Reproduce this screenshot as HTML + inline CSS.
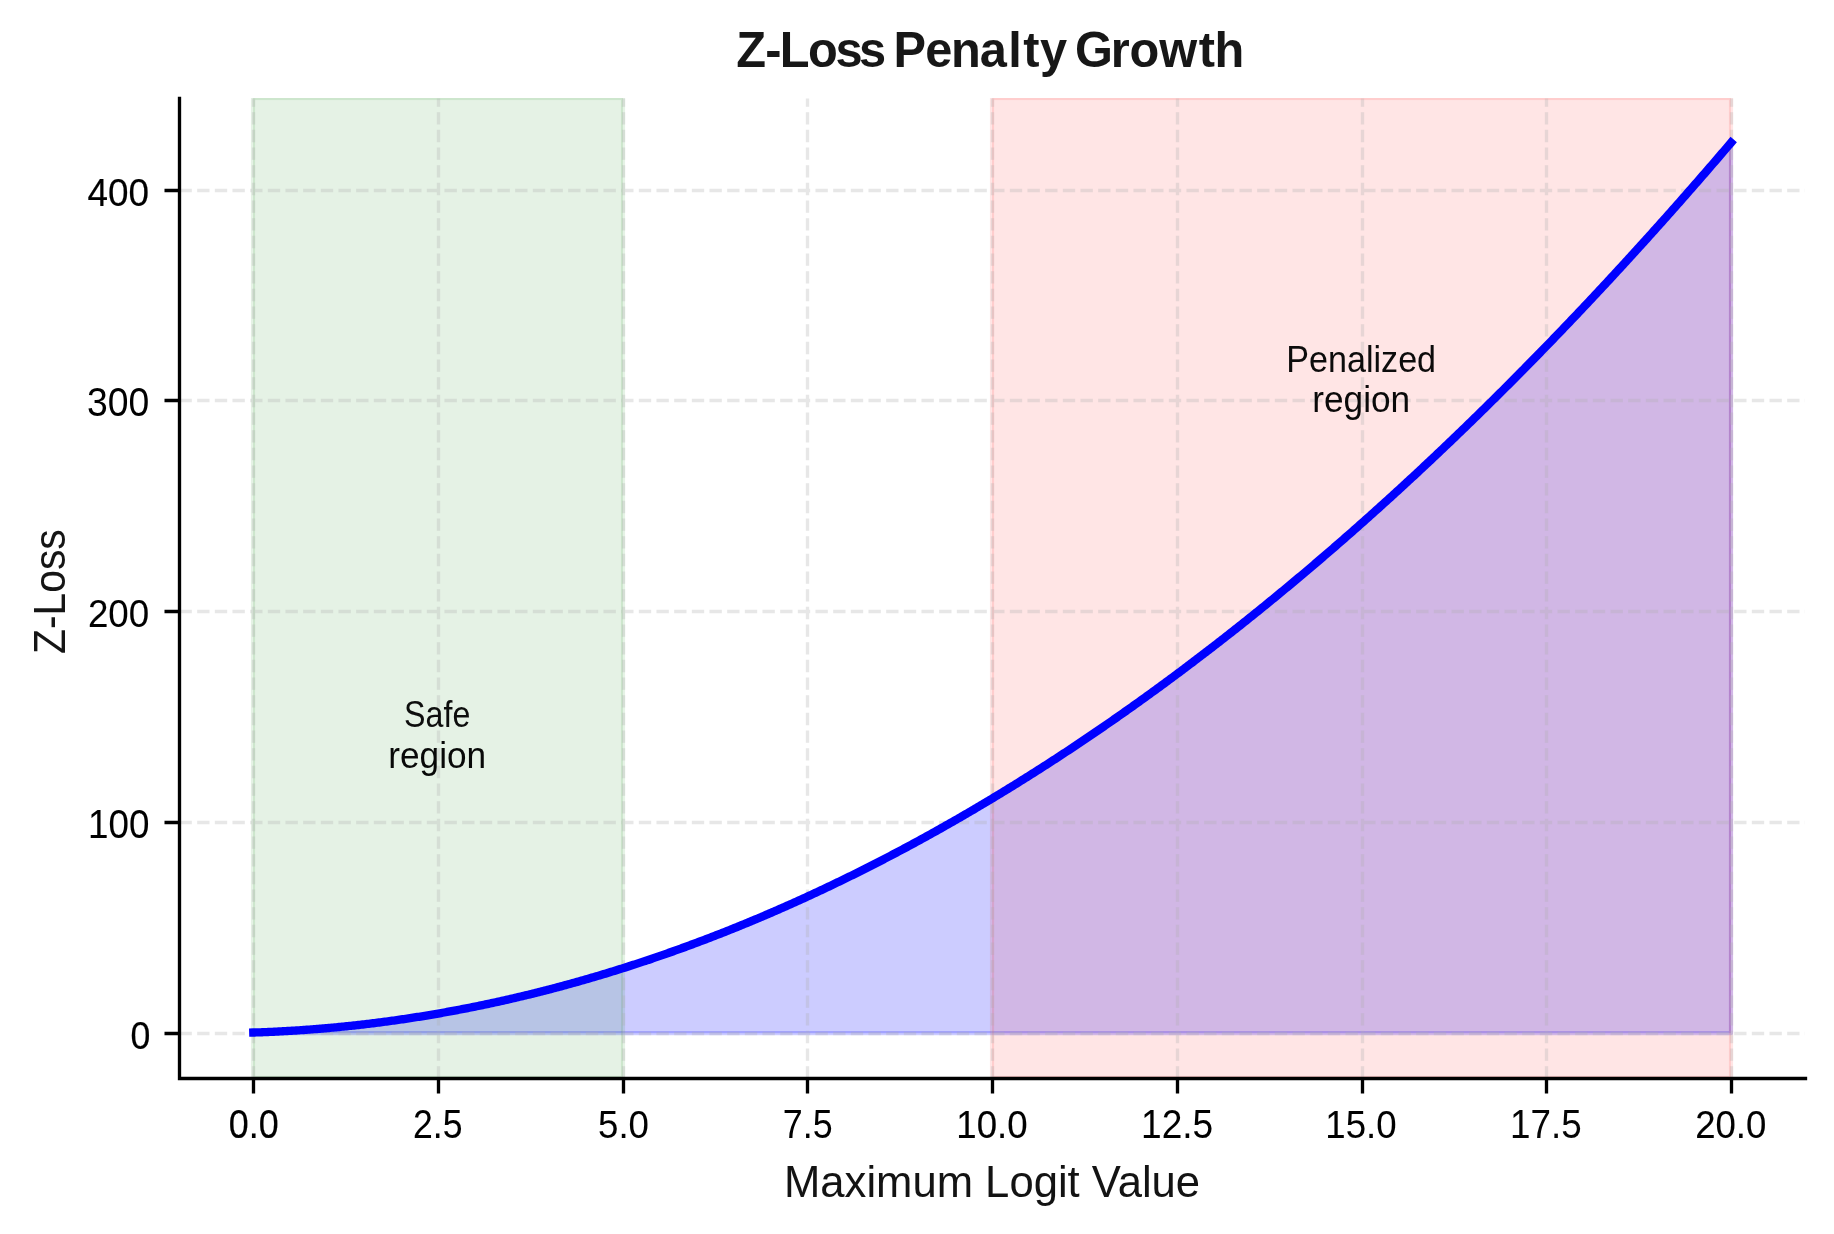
<!DOCTYPE html>
<html><head><meta charset="utf-8"><title>Z-Loss Penalty Growth</title>
<style>html,body{margin:0;padding:0;background:#fff;overflow:hidden}svg{display:block}text{font-family:"Liberation Sans",sans-serif}</style></head>
<body><svg width="1834" height="1234" viewBox="0 0 1834 1234">
<rect x="0" y="0" width="1834" height="1234" fill="#fff"/>
<defs><clipPath id="ax"><rect x="179" y="98" width="1626" height="980"/></clipPath></defs>
<g clip-path="url(#ax)">
<path d="M253.29 1033.18 L253.29 1032.54 L254.77 1032.5 L256.24 1032.45 L257.72 1032.4 L259.2 1032.34 L260.68 1032.29 L262.16 1032.23 L263.64 1032.18 L265.12 1032.12 L266.6 1032.06 L268.08 1032 L269.56 1031.93 L271.04 1031.87 L272.52 1031.8 L274 1031.73 L275.47 1031.66 L276.95 1031.59 L278.43 1031.51 L279.91 1031.44 L281.39 1031.36 L282.87 1031.28 L284.35 1031.2 L285.83 1031.12 L287.31 1031.03 L288.79 1030.95 L290.27 1030.86 L291.75 1030.77 L293.22 1030.68 L294.7 1030.58 L296.18 1030.49 L297.66 1030.39 L299.14 1030.3 L300.62 1030.2 L302.1 1030.09 L303.58 1029.99 L305.06 1029.89 L306.54 1029.78 L308.02 1029.67 L309.5 1029.56 L310.98 1029.45 L312.45 1029.34 L313.93 1029.22 L315.41 1029.11 L316.89 1028.99 L318.37 1028.87 L319.85 1028.75 L321.33 1028.63 L322.81 1028.5 L324.29 1028.37 L325.77 1028.25 L327.25 1028.12 L328.73 1027.98 L330.21 1027.85 L331.68 1027.72 L333.16 1027.58 L334.64 1027.44 L336.12 1027.3 L337.6 1027.16 L339.08 1027.01 L340.56 1026.87 L342.04 1026.72 L343.52 1026.57 L345 1026.42 L346.48 1026.27 L347.96 1026.12 L349.43 1025.96 L350.91 1025.81 L352.39 1025.65 L353.87 1025.49 L355.35 1025.32 L356.83 1025.16 L358.31 1025 L359.79 1024.83 L361.27 1024.66 L362.75 1024.49 L364.23 1024.32 L365.71 1024.14 L367.19 1023.97 L368.66 1023.79 L370.14 1023.61 L371.62 1023.43 L373.1 1023.25 L374.58 1023.06 L376.06 1022.88 L377.54 1022.69 L379.02 1022.5 L380.5 1022.31 L381.98 1022.12 L383.46 1021.92 L384.94 1021.73 L386.41 1021.53 L387.89 1021.33 L389.37 1021.13 L390.85 1020.93 L392.33 1020.72 L393.81 1020.52 L395.29 1020.31 L396.77 1020.1 L398.25 1019.89 L399.73 1019.68 L401.21 1019.46 L402.69 1019.25 L404.17 1019.03 L405.64 1018.81 L407.12 1018.59 L408.6 1018.36 L410.08 1018.14 L411.56 1017.91 L413.04 1017.69 L414.52 1017.46 L416 1017.22 L417.48 1016.99 L418.96 1016.76 L420.44 1016.52 L421.92 1016.28 L423.4 1016.04 L424.87 1015.8 L426.35 1015.56 L427.83 1015.31 L429.31 1015.07 L430.79 1014.82 L432.27 1014.57 L433.75 1014.32 L435.23 1014.06 L436.71 1013.81 L438.19 1013.55 L439.67 1013.29 L441.15 1013.03 L442.62 1012.77 L444.1 1012.51 L445.58 1012.24 L447.06 1011.97 L448.54 1011.71 L450.02 1011.44 L451.5 1011.16 L452.98 1010.89 L454.46 1010.61 L455.94 1010.34 L457.42 1010.06 L458.9 1009.78 L460.38 1009.5 L461.85 1009.21 L463.33 1008.93 L464.81 1008.64 L466.29 1008.35 L467.77 1008.06 L469.25 1007.77 L470.73 1007.47 L472.21 1007.18 L473.69 1006.88 L475.17 1006.58 L476.65 1006.28 L478.13 1005.98 L479.6 1005.67 L481.08 1005.37 L482.56 1005.06 L484.04 1004.75 L485.52 1004.44 L487 1004.13 L488.48 1003.81 L489.96 1003.5 L491.44 1003.18 L492.92 1002.86 L494.4 1002.54 L495.88 1002.22 L497.36 1001.89 L498.83 1001.57 L500.31 1001.24 L501.79 1000.91 L503.27 1000.58 L504.75 1000.25 L506.23 999.91 L507.71 999.58 L509.19 999.24 L510.67 998.9 L512.15 998.56 L513.63 998.21 L515.11 997.87 L516.59 997.52 L518.06 997.17 L519.54 996.82 L521.02 996.47 L522.5 996.12 L523.98 995.77 L525.46 995.41 L526.94 995.05 L528.42 994.69 L529.9 994.33 L531.38 993.97 L532.86 993.6 L534.34 993.23 L535.81 992.87 L537.29 992.5 L538.77 992.12 L540.25 991.75 L541.73 991.38 L543.21 991 L544.69 990.62 L546.17 990.24 L547.65 989.86 L549.13 989.47 L550.61 989.09 L552.09 988.7 L553.57 988.31 L555.04 987.92 L556.52 987.53 L558 987.14 L559.48 986.74 L560.96 986.35 L562.44 985.95 L563.92 985.55 L565.4 985.14 L566.88 984.74 L568.36 984.33 L569.84 983.93 L571.32 983.52 L572.79 983.11 L574.27 982.7 L575.75 982.28 L577.23 981.87 L578.71 981.45 L580.19 981.03 L581.67 980.61 L583.15 980.19 L584.63 979.76 L586.11 979.34 L587.59 978.91 L589.07 978.48 L590.55 978.05 L592.02 977.62 L593.5 977.18 L594.98 976.75 L596.46 976.31 L597.94 975.87 L599.42 975.43 L600.9 974.99 L602.38 974.54 L603.86 974.09 L605.34 973.65 L606.82 973.2 L608.3 972.75 L609.78 972.29 L611.25 971.84 L612.73 971.38 L614.21 970.92 L615.69 970.47 L617.17 970 L618.65 969.54 L620.13 969.08 L621.61 968.61 L623.09 968.14 L624.57 967.67 L626.05 967.2 L627.53 966.73 L629 966.25 L630.48 965.78 L631.96 965.3 L633.44 964.82 L634.92 964.34 L636.4 963.85 L637.88 963.37 L639.36 962.88 L640.84 962.39 L642.32 961.9 L643.8 961.41 L645.28 960.92 L646.76 960.42 L648.23 959.93 L649.71 959.43 L651.19 958.93 L652.67 958.42 L654.15 957.92 L655.63 957.42 L657.11 956.91 L658.59 956.4 L660.07 955.89 L661.55 955.38 L663.03 954.86 L664.51 954.35 L665.98 953.83 L667.46 953.31 L668.94 952.79 L670.42 952.27 L671.9 951.75 L673.38 951.22 L674.86 950.69 L676.34 950.16 L677.82 949.63 L679.3 949.1 L680.78 948.57 L682.26 948.03 L683.74 947.49 L685.21 946.96 L686.69 946.41 L688.17 945.87 L689.65 945.33 L691.13 944.78 L692.61 944.23 L694.09 943.69 L695.57 943.13 L697.05 942.58 L698.53 942.03 L700.01 941.47 L701.49 940.91 L702.97 940.35 L704.44 939.79 L705.92 939.23 L707.4 938.67 L708.88 938.1 L710.36 937.53 L711.84 936.96 L713.32 936.39 L714.8 935.82 L716.28 935.24 L717.76 934.67 L719.24 934.09 L720.72 933.51 L722.19 932.93 L723.67 932.35 L725.15 931.76 L726.63 931.17 L728.11 930.59 L729.59 930 L731.07 929.41 L732.55 928.81 L734.03 928.22 L735.51 927.62 L736.99 927.02 L738.47 926.42 L739.95 925.82 L741.42 925.22 L742.9 924.61 L744.38 924.01 L745.86 923.4 L747.34 922.79 L748.82 922.18 L750.3 921.56 L751.78 920.95 L753.26 920.33 L754.74 919.71 L756.22 919.09 L757.7 918.47 L759.17 917.85 L760.65 917.22 L762.13 916.59 L763.61 915.96 L765.09 915.33 L766.57 914.7 L768.05 914.07 L769.53 913.43 L771.01 912.8 L772.49 912.16 L773.97 911.52 L775.45 910.87 L776.93 910.23 L778.4 909.58 L779.88 908.94 L781.36 908.29 L782.84 907.64 L784.32 906.99 L785.8 906.33 L787.28 905.68 L788.76 905.02 L790.24 904.36 L791.72 903.7 L793.2 903.04 L794.68 902.37 L796.16 901.71 L797.63 901.04 L799.11 900.37 L800.59 899.7 L802.07 899.02 L803.55 898.35 L805.03 897.67 L806.51 897 L807.99 896.32 L809.47 895.64 L810.95 894.95 L812.43 894.27 L813.91 893.58 L815.38 892.89 L816.86 892.21 L818.34 891.51 L819.82 890.82 L821.3 890.13 L822.78 889.43 L824.26 888.73 L825.74 888.03 L827.22 887.33 L828.7 886.63 L830.18 885.92 L831.66 885.22 L833.14 884.51 L834.61 883.8 L836.09 883.09 L837.57 882.37 L839.05 881.66 L840.53 880.94 L842.01 880.22 L843.49 879.5 L844.97 878.78 L846.45 878.06 L847.93 877.33 L849.41 876.61 L850.89 875.88 L852.36 875.15 L853.84 874.42 L855.32 873.68 L856.8 872.95 L858.28 872.21 L859.76 871.47 L861.24 870.73 L862.72 869.99 L864.2 869.25 L865.68 868.5 L867.16 867.75 L868.64 867.01 L870.12 866.26 L871.59 865.5 L873.07 864.75 L874.55 863.99 L876.03 863.24 L877.51 862.48 L878.99 861.72 L880.47 860.96 L881.95 860.19 L883.43 859.43 L884.91 858.66 L886.39 857.89 L887.87 857.12 L889.35 856.35 L890.82 855.57 L892.3 854.8 L893.78 854.02 L895.26 853.24 L896.74 852.46 L898.22 851.68 L899.7 850.89 L901.18 850.11 L902.66 849.32 L904.14 848.53 L905.62 847.74 L907.1 846.95 L908.57 846.15 L910.05 845.36 L911.53 844.56 L913.01 843.76 L914.49 842.96 L915.97 842.15 L917.45 841.35 L918.93 840.54 L920.41 839.74 L921.89 838.93 L923.37 838.11 L924.85 837.3 L926.33 836.49 L927.8 835.67 L929.28 834.85 L930.76 834.03 L932.24 833.21 L933.72 832.39 L935.2 831.56 L936.68 830.74 L938.16 829.91 L939.64 829.08 L941.12 828.25 L942.6 827.41 L944.08 826.58 L945.55 825.74 L947.03 824.9 L948.51 824.06 L949.99 823.22 L951.47 822.38 L952.95 821.53 L954.43 820.69 L955.91 819.84 L957.39 818.99 L958.87 818.14 L960.35 817.28 L961.83 816.43 L963.31 815.57 L964.78 814.71 L966.26 813.85 L967.74 812.99 L969.22 812.13 L970.7 811.26 L972.18 810.39 L973.66 809.53 L975.14 808.65 L976.62 807.78 L978.1 806.91 L979.58 806.03 L981.06 805.16 L982.54 804.28 L984.01 803.4 L985.49 802.51 L986.97 801.63 L988.45 800.74 L989.93 799.86 L991.41 798.97 L992.89 798.08 L994.37 797.18 L995.85 796.29 L997.33 795.39 L998.81 794.5 L1000.29 793.6 L1001.76 792.7 L1003.24 791.79 L1004.72 790.89 L1006.2 789.98 L1007.68 789.08 L1009.16 788.17 L1010.64 787.26 L1012.12 786.34 L1013.6 785.43 L1015.08 784.51 L1016.56 783.6 L1018.04 782.68 L1019.52 781.75 L1020.99 780.83 L1022.47 779.91 L1023.95 778.98 L1025.43 778.05 L1026.91 777.12 L1028.39 776.19 L1029.87 775.26 L1031.35 774.32 L1032.83 773.39 L1034.31 772.45 L1035.79 771.51 L1037.27 770.57 L1038.75 769.63 L1040.22 768.68 L1041.7 767.73 L1043.18 766.79 L1044.66 765.84 L1046.14 764.88 L1047.62 763.93 L1049.1 762.98 L1050.58 762.02 L1052.06 761.06 L1053.54 760.1 L1055.02 759.14 L1056.5 758.18 L1057.97 757.21 L1059.45 756.24 L1060.93 755.28 L1062.41 754.31 L1063.89 753.33 L1065.37 752.36 L1066.85 751.38 L1068.33 750.41 L1069.81 749.43 L1071.29 748.45 L1072.77 747.47 L1074.25 746.48 L1075.73 745.5 L1077.2 744.51 L1078.68 743.52 L1080.16 742.53 L1081.64 741.54 L1083.12 740.55 L1084.6 739.55 L1086.08 738.55 L1087.56 737.55 L1089.04 736.55 L1090.52 735.55 L1092 734.55 L1093.48 733.54 L1094.95 732.53 L1096.43 731.52 L1097.91 730.51 L1099.39 729.5 L1100.87 728.49 L1102.35 727.47 L1103.83 726.45 L1105.31 725.43 L1106.79 724.41 L1108.27 723.39 L1109.75 722.37 L1111.23 721.34 L1112.71 720.31 L1114.18 719.28 L1115.66 718.25 L1117.14 717.22 L1118.62 716.19 L1120.1 715.15 L1121.58 714.11 L1123.06 713.07 L1124.54 712.03 L1126.02 710.99 L1127.5 709.94 L1128.98 708.9 L1130.46 707.85 L1131.94 706.8 L1133.41 705.75 L1134.89 704.69 L1136.37 703.64 L1137.85 702.58 L1139.33 701.53 L1140.81 700.47 L1142.29 699.4 L1143.77 698.34 L1145.25 697.28 L1146.73 696.21 L1148.21 695.14 L1149.69 694.07 L1151.16 693 L1152.64 691.93 L1154.12 690.85 L1155.6 689.77 L1157.08 688.7 L1158.56 687.62 L1160.04 686.53 L1161.52 685.45 L1163 684.37 L1164.48 683.28 L1165.96 682.19 L1167.44 681.1 L1168.92 680.01 L1170.39 678.91 L1171.87 677.82 L1173.35 676.72 L1174.83 675.62 L1176.31 674.52 L1177.79 673.42 L1179.27 672.32 L1180.75 671.21 L1182.23 670.1 L1183.71 669 L1185.19 667.89 L1186.67 666.77 L1188.14 665.66 L1189.62 664.54 L1191.1 663.43 L1192.58 662.31 L1194.06 661.19 L1195.54 660.06 L1197.02 658.94 L1198.5 657.81 L1199.98 656.69 L1201.46 655.56 L1202.94 654.43 L1204.42 653.3 L1205.9 652.16 L1207.37 651.02 L1208.85 649.89 L1210.33 648.75 L1211.81 647.61 L1213.29 646.46 L1214.77 645.32 L1216.25 644.17 L1217.73 643.03 L1219.21 641.88 L1220.69 640.73 L1222.17 639.57 L1223.65 638.42 L1225.13 637.26 L1226.6 636.1 L1228.08 634.95 L1229.56 633.78 L1231.04 632.62 L1232.52 631.46 L1234 630.29 L1235.48 629.12 L1236.96 627.95 L1238.44 626.78 L1239.92 625.61 L1241.4 624.43 L1242.88 623.26 L1244.35 622.08 L1245.83 620.9 L1247.31 619.72 L1248.79 618.53 L1250.27 617.35 L1251.75 616.16 L1253.23 614.97 L1254.71 613.78 L1256.19 612.59 L1257.67 611.4 L1259.15 610.2 L1260.63 609.01 L1262.11 607.81 L1263.58 606.61 L1265.06 605.41 L1266.54 604.2 L1268.02 603 L1269.5 601.79 L1270.98 600.58 L1272.46 599.37 L1273.94 598.16 L1275.42 596.95 L1276.9 595.73 L1278.38 594.51 L1279.86 593.3 L1281.33 592.08 L1282.81 590.85 L1284.29 589.63 L1285.77 588.4 L1287.25 587.18 L1288.73 585.95 L1290.21 584.72 L1291.69 583.49 L1293.17 582.25 L1294.65 581.02 L1296.13 579.78 L1297.61 578.54 L1299.09 577.3 L1300.56 576.06 L1302.04 574.81 L1303.52 573.57 L1305 572.32 L1306.48 571.07 L1307.96 569.82 L1309.44 568.57 L1310.92 567.31 L1312.4 566.06 L1313.88 564.8 L1315.36 563.54 L1316.84 562.28 L1318.32 561.02 L1319.79 559.75 L1321.27 558.49 L1322.75 557.22 L1324.23 555.95 L1325.71 554.68 L1327.19 553.4 L1328.67 552.13 L1330.15 550.85 L1331.63 549.58 L1333.11 548.3 L1334.59 547.01 L1336.07 545.73 L1337.54 544.45 L1339.02 543.16 L1340.5 541.87 L1341.98 540.58 L1343.46 539.29 L1344.94 538 L1346.42 536.7 L1347.9 535.41 L1349.38 534.11 L1350.86 532.81 L1352.34 531.51 L1353.82 530.2 L1355.3 528.9 L1356.77 527.59 L1358.25 526.28 L1359.73 524.97 L1361.21 523.66 L1362.69 522.35 L1364.17 521.03 L1365.65 519.72 L1367.13 518.4 L1368.61 517.08 L1370.09 515.76 L1371.57 514.43 L1373.05 513.11 L1374.52 511.78 L1376 510.45 L1377.48 509.12 L1378.96 507.79 L1380.44 506.46 L1381.92 505.12 L1383.4 503.78 L1384.88 502.45 L1386.36 501.11 L1387.84 499.76 L1389.32 498.42 L1390.8 497.07 L1392.28 495.73 L1393.75 494.38 L1395.23 493.03 L1396.71 491.67 L1398.19 490.32 L1399.67 488.97 L1401.15 487.61 L1402.63 486.25 L1404.11 484.89 L1405.59 483.53 L1407.07 482.16 L1408.55 480.8 L1410.03 479.43 L1411.51 478.06 L1412.98 476.69 L1414.46 475.32 L1415.94 473.94 L1417.42 472.57 L1418.9 471.19 L1420.38 469.81 L1421.86 468.43 L1423.34 467.04 L1424.82 465.66 L1426.3 464.27 L1427.78 462.89 L1429.26 461.5 L1430.73 460.11 L1432.21 458.71 L1433.69 457.32 L1435.17 455.92 L1436.65 454.52 L1438.13 453.12 L1439.61 451.72 L1441.09 450.32 L1442.57 448.92 L1444.05 447.51 L1445.53 446.1 L1447.01 444.69 L1448.49 443.28 L1449.96 441.87 L1451.44 440.45 L1452.92 439.04 L1454.4 437.62 L1455.88 436.2 L1457.36 434.78 L1458.84 433.35 L1460.32 431.93 L1461.8 430.5 L1463.28 429.07 L1464.76 427.64 L1466.24 426.21 L1467.71 424.78 L1469.19 423.34 L1470.67 421.91 L1472.15 420.47 L1473.63 419.03 L1475.11 417.58 L1476.59 416.14 L1478.07 414.7 L1479.55 413.25 L1481.03 411.8 L1482.51 410.35 L1483.99 408.9 L1485.47 407.44 L1486.94 405.99 L1488.42 404.53 L1489.9 403.07 L1491.38 401.61 L1492.86 400.15 L1494.34 398.69 L1495.82 397.22 L1497.3 395.75 L1498.78 394.28 L1500.26 392.81 L1501.74 391.34 L1503.22 389.87 L1504.7 388.39 L1506.17 386.91 L1507.65 385.44 L1509.13 383.95 L1510.61 382.47 L1512.09 380.99 L1513.57 379.5 L1515.05 378.01 L1516.53 376.53 L1518.01 375.03 L1519.49 373.54 L1520.97 372.05 L1522.45 370.55 L1523.92 369.05 L1525.4 367.55 L1526.88 366.05 L1528.36 364.55 L1529.84 363.05 L1531.32 361.54 L1532.8 360.03 L1534.28 358.52 L1535.76 357.01 L1537.24 355.5 L1538.72 353.98 L1540.2 352.47 L1541.68 350.95 L1543.15 349.43 L1544.63 347.91 L1546.11 346.39 L1547.59 344.86 L1549.07 343.34 L1550.55 341.81 L1552.03 340.28 L1553.51 338.75 L1554.99 337.21 L1556.47 335.68 L1557.95 334.14 L1559.43 332.6 L1560.9 331.06 L1562.38 329.52 L1563.86 327.98 L1565.34 326.43 L1566.82 324.89 L1568.3 323.34 L1569.78 321.79 L1571.26 320.24 L1572.74 318.68 L1574.22 317.13 L1575.7 315.57 L1577.18 314.01 L1578.66 312.45 L1580.13 310.89 L1581.61 309.33 L1583.09 307.76 L1584.57 306.19 L1586.05 304.63 L1587.53 303.06 L1589.01 301.48 L1590.49 299.91 L1591.97 298.33 L1593.45 296.76 L1594.93 295.18 L1596.41 293.6 L1597.89 292.02 L1599.36 290.43 L1600.84 288.85 L1602.32 287.26 L1603.8 285.67 L1605.28 284.08 L1606.76 282.49 L1608.24 280.89 L1609.72 279.3 L1611.2 277.7 L1612.68 276.1 L1614.16 274.5 L1615.64 272.9 L1617.11 271.29 L1618.59 269.69 L1620.07 268.08 L1621.55 266.47 L1623.03 264.86 L1624.51 263.25 L1625.99 261.63 L1627.47 260.02 L1628.95 258.4 L1630.43 256.78 L1631.91 255.16 L1633.39 253.54 L1634.87 251.91 L1636.34 250.28 L1637.82 248.66 L1639.3 247.03 L1640.78 245.4 L1642.26 243.76 L1643.74 242.13 L1645.22 240.49 L1646.7 238.85 L1648.18 237.21 L1649.66 235.57 L1651.14 233.93 L1652.62 232.29 L1654.09 230.64 L1655.57 228.99 L1657.05 227.34 L1658.53 225.69 L1660.01 224.04 L1661.49 222.38 L1662.97 220.72 L1664.45 219.07 L1665.93 217.41 L1667.41 215.74 L1668.89 214.08 L1670.37 212.42 L1671.85 210.75 L1673.32 209.08 L1674.8 207.41 L1676.28 205.74 L1677.76 204.07 L1679.24 202.39 L1680.72 200.71 L1682.2 199.04 L1683.68 197.35 L1685.16 195.67 L1686.64 193.99 L1688.12 192.3 L1689.6 190.62 L1691.08 188.93 L1692.55 187.24 L1694.03 185.55 L1695.51 183.85 L1696.99 182.16 L1698.47 180.46 L1699.95 178.76 L1701.43 177.06 L1702.91 175.36 L1704.39 173.65 L1705.87 171.95 L1707.35 170.24 L1708.83 168.53 L1710.3 166.82 L1711.78 165.11 L1713.26 163.39 L1714.74 161.68 L1716.22 159.96 L1717.7 158.24 L1719.18 156.52 L1720.66 154.8 L1722.14 153.07 L1723.62 151.35 L1725.1 149.62 L1726.58 147.89 L1728.06 146.16 L1729.53 144.43 L1731.01 142.69 L1731.01 1033.18Z" fill="#0000ff" fill-opacity="0.2" stroke="#0000ff" stroke-opacity="0.2" stroke-width="4.1667" stroke-linejoin="round"/>
<rect x="253" y="98" width="370" height="980" fill="#008000" fill-opacity="0.1" stroke="#008000" stroke-opacity="0.1" stroke-width="4.1667"/>
<rect x="992" y="98" width="739" height="980" fill="#ff0000" fill-opacity="0.1" stroke="#ff0000" stroke-opacity="0.1" stroke-width="4.1667"/>
<path d="M253.5 1078.5V98.5M438.5 1078.5V98.5M623.5 1078.5V98.5M807.5 1078.5V98.5M992.5 1078.5V98.5M1177.5 1078.5V98.5M1362.5 1078.5V98.5M1546.5 1078.5V98.5M1731.5 1078.5V98.5M179.5 1033.5H1805.5M179.5 822.5H1805.5M179.5 611.5H1805.5M179.5 400.5H1805.5M179.5 190.5H1805.5" fill="none" stroke="#b0b0b0" stroke-opacity="0.3" stroke-width="3.3333" stroke-dasharray="12.3333 5.3333"/>
<path d="M253.29 1032.54 L254.77 1032.5 L256.24 1032.45 L257.72 1032.4 L259.2 1032.34 L260.68 1032.29 L262.16 1032.23 L263.64 1032.18 L265.12 1032.12 L266.6 1032.06 L268.08 1032 L269.56 1031.93 L271.04 1031.87 L272.52 1031.8 L274 1031.73 L275.47 1031.66 L276.95 1031.59 L278.43 1031.51 L279.91 1031.44 L281.39 1031.36 L282.87 1031.28 L284.35 1031.2 L285.83 1031.12 L287.31 1031.03 L288.79 1030.95 L290.27 1030.86 L291.75 1030.77 L293.22 1030.68 L294.7 1030.58 L296.18 1030.49 L297.66 1030.39 L299.14 1030.3 L300.62 1030.2 L302.1 1030.09 L303.58 1029.99 L305.06 1029.89 L306.54 1029.78 L308.02 1029.67 L309.5 1029.56 L310.98 1029.45 L312.45 1029.34 L313.93 1029.22 L315.41 1029.11 L316.89 1028.99 L318.37 1028.87 L319.85 1028.75 L321.33 1028.63 L322.81 1028.5 L324.29 1028.37 L325.77 1028.25 L327.25 1028.12 L328.73 1027.98 L330.21 1027.85 L331.68 1027.72 L333.16 1027.58 L334.64 1027.44 L336.12 1027.3 L337.6 1027.16 L339.08 1027.01 L340.56 1026.87 L342.04 1026.72 L343.52 1026.57 L345 1026.42 L346.48 1026.27 L347.96 1026.12 L349.43 1025.96 L350.91 1025.81 L352.39 1025.65 L353.87 1025.49 L355.35 1025.32 L356.83 1025.16 L358.31 1025 L359.79 1024.83 L361.27 1024.66 L362.75 1024.49 L364.23 1024.32 L365.71 1024.14 L367.19 1023.97 L368.66 1023.79 L370.14 1023.61 L371.62 1023.43 L373.1 1023.25 L374.58 1023.06 L376.06 1022.88 L377.54 1022.69 L379.02 1022.5 L380.5 1022.31 L381.98 1022.12 L383.46 1021.92 L384.94 1021.73 L386.41 1021.53 L387.89 1021.33 L389.37 1021.13 L390.85 1020.93 L392.33 1020.72 L393.81 1020.52 L395.29 1020.31 L396.77 1020.1 L398.25 1019.89 L399.73 1019.68 L401.21 1019.46 L402.69 1019.25 L404.17 1019.03 L405.64 1018.81 L407.12 1018.59 L408.6 1018.36 L410.08 1018.14 L411.56 1017.91 L413.04 1017.69 L414.52 1017.46 L416 1017.22 L417.48 1016.99 L418.96 1016.76 L420.44 1016.52 L421.92 1016.28 L423.4 1016.04 L424.87 1015.8 L426.35 1015.56 L427.83 1015.31 L429.31 1015.07 L430.79 1014.82 L432.27 1014.57 L433.75 1014.32 L435.23 1014.06 L436.71 1013.81 L438.19 1013.55 L439.67 1013.29 L441.15 1013.03 L442.62 1012.77 L444.1 1012.51 L445.58 1012.24 L447.06 1011.97 L448.54 1011.71 L450.02 1011.44 L451.5 1011.16 L452.98 1010.89 L454.46 1010.61 L455.94 1010.34 L457.42 1010.06 L458.9 1009.78 L460.38 1009.5 L461.85 1009.21 L463.33 1008.93 L464.81 1008.64 L466.29 1008.35 L467.77 1008.06 L469.25 1007.77 L470.73 1007.47 L472.21 1007.18 L473.69 1006.88 L475.17 1006.58 L476.65 1006.28 L478.13 1005.98 L479.6 1005.67 L481.08 1005.37 L482.56 1005.06 L484.04 1004.75 L485.52 1004.44 L487 1004.13 L488.48 1003.81 L489.96 1003.5 L491.44 1003.18 L492.92 1002.86 L494.4 1002.54 L495.88 1002.22 L497.36 1001.89 L498.83 1001.57 L500.31 1001.24 L501.79 1000.91 L503.27 1000.58 L504.75 1000.25 L506.23 999.91 L507.71 999.58 L509.19 999.24 L510.67 998.9 L512.15 998.56 L513.63 998.21 L515.11 997.87 L516.59 997.52 L518.06 997.17 L519.54 996.82 L521.02 996.47 L522.5 996.12 L523.98 995.77 L525.46 995.41 L526.94 995.05 L528.42 994.69 L529.9 994.33 L531.38 993.97 L532.86 993.6 L534.34 993.23 L535.81 992.87 L537.29 992.5 L538.77 992.12 L540.25 991.75 L541.73 991.38 L543.21 991 L544.69 990.62 L546.17 990.24 L547.65 989.86 L549.13 989.47 L550.61 989.09 L552.09 988.7 L553.57 988.31 L555.04 987.92 L556.52 987.53 L558 987.14 L559.48 986.74 L560.96 986.35 L562.44 985.95 L563.92 985.55 L565.4 985.14 L566.88 984.74 L568.36 984.33 L569.84 983.93 L571.32 983.52 L572.79 983.11 L574.27 982.7 L575.75 982.28 L577.23 981.87 L578.71 981.45 L580.19 981.03 L581.67 980.61 L583.15 980.19 L584.63 979.76 L586.11 979.34 L587.59 978.91 L589.07 978.48 L590.55 978.05 L592.02 977.62 L593.5 977.18 L594.98 976.75 L596.46 976.31 L597.94 975.87 L599.42 975.43 L600.9 974.99 L602.38 974.54 L603.86 974.09 L605.34 973.65 L606.82 973.2 L608.3 972.75 L609.78 972.29 L611.25 971.84 L612.73 971.38 L614.21 970.92 L615.69 970.47 L617.17 970 L618.65 969.54 L620.13 969.08 L621.61 968.61 L623.09 968.14 L624.57 967.67 L626.05 967.2 L627.53 966.73 L629 966.25 L630.48 965.78 L631.96 965.3 L633.44 964.82 L634.92 964.34 L636.4 963.85 L637.88 963.37 L639.36 962.88 L640.84 962.39 L642.32 961.9 L643.8 961.41 L645.28 960.92 L646.76 960.42 L648.23 959.93 L649.71 959.43 L651.19 958.93 L652.67 958.42 L654.15 957.92 L655.63 957.42 L657.11 956.91 L658.59 956.4 L660.07 955.89 L661.55 955.38 L663.03 954.86 L664.51 954.35 L665.98 953.83 L667.46 953.31 L668.94 952.79 L670.42 952.27 L671.9 951.75 L673.38 951.22 L674.86 950.69 L676.34 950.16 L677.82 949.63 L679.3 949.1 L680.78 948.57 L682.26 948.03 L683.74 947.49 L685.21 946.96 L686.69 946.41 L688.17 945.87 L689.65 945.33 L691.13 944.78 L692.61 944.23 L694.09 943.69 L695.57 943.13 L697.05 942.58 L698.53 942.03 L700.01 941.47 L701.49 940.91 L702.97 940.35 L704.44 939.79 L705.92 939.23 L707.4 938.67 L708.88 938.1 L710.36 937.53 L711.84 936.96 L713.32 936.39 L714.8 935.82 L716.28 935.24 L717.76 934.67 L719.24 934.09 L720.72 933.51 L722.19 932.93 L723.67 932.35 L725.15 931.76 L726.63 931.17 L728.11 930.59 L729.59 930 L731.07 929.41 L732.55 928.81 L734.03 928.22 L735.51 927.62 L736.99 927.02 L738.47 926.42 L739.95 925.82 L741.42 925.22 L742.9 924.61 L744.38 924.01 L745.86 923.4 L747.34 922.79 L748.82 922.18 L750.3 921.56 L751.78 920.95 L753.26 920.33 L754.74 919.71 L756.22 919.09 L757.7 918.47 L759.17 917.85 L760.65 917.22 L762.13 916.59 L763.61 915.96 L765.09 915.33 L766.57 914.7 L768.05 914.07 L769.53 913.43 L771.01 912.8 L772.49 912.16 L773.97 911.52 L775.45 910.87 L776.93 910.23 L778.4 909.58 L779.88 908.94 L781.36 908.29 L782.84 907.64 L784.32 906.99 L785.8 906.33 L787.28 905.68 L788.76 905.02 L790.24 904.36 L791.72 903.7 L793.2 903.04 L794.68 902.37 L796.16 901.71 L797.63 901.04 L799.11 900.37 L800.59 899.7 L802.07 899.02 L803.55 898.35 L805.03 897.67 L806.51 897 L807.99 896.32 L809.47 895.64 L810.95 894.95 L812.43 894.27 L813.91 893.58 L815.38 892.89 L816.86 892.21 L818.34 891.51 L819.82 890.82 L821.3 890.13 L822.78 889.43 L824.26 888.73 L825.74 888.03 L827.22 887.33 L828.7 886.63 L830.18 885.92 L831.66 885.22 L833.14 884.51 L834.61 883.8 L836.09 883.09 L837.57 882.37 L839.05 881.66 L840.53 880.94 L842.01 880.22 L843.49 879.5 L844.97 878.78 L846.45 878.06 L847.93 877.33 L849.41 876.61 L850.89 875.88 L852.36 875.15 L853.84 874.42 L855.32 873.68 L856.8 872.95 L858.28 872.21 L859.76 871.47 L861.24 870.73 L862.72 869.99 L864.2 869.25 L865.68 868.5 L867.16 867.75 L868.64 867.01 L870.12 866.26 L871.59 865.5 L873.07 864.75 L874.55 863.99 L876.03 863.24 L877.51 862.48 L878.99 861.72 L880.47 860.96 L881.95 860.19 L883.43 859.43 L884.91 858.66 L886.39 857.89 L887.87 857.12 L889.35 856.35 L890.82 855.57 L892.3 854.8 L893.78 854.02 L895.26 853.24 L896.74 852.46 L898.22 851.68 L899.7 850.89 L901.18 850.11 L902.66 849.32 L904.14 848.53 L905.62 847.74 L907.1 846.95 L908.57 846.15 L910.05 845.36 L911.53 844.56 L913.01 843.76 L914.49 842.96 L915.97 842.15 L917.45 841.35 L918.93 840.54 L920.41 839.74 L921.89 838.93 L923.37 838.11 L924.85 837.3 L926.33 836.49 L927.8 835.67 L929.28 834.85 L930.76 834.03 L932.24 833.21 L933.72 832.39 L935.2 831.56 L936.68 830.74 L938.16 829.91 L939.64 829.08 L941.12 828.25 L942.6 827.41 L944.08 826.58 L945.55 825.74 L947.03 824.9 L948.51 824.06 L949.99 823.22 L951.47 822.38 L952.95 821.53 L954.43 820.69 L955.91 819.84 L957.39 818.99 L958.87 818.14 L960.35 817.28 L961.83 816.43 L963.31 815.57 L964.78 814.71 L966.26 813.85 L967.74 812.99 L969.22 812.13 L970.7 811.26 L972.18 810.39 L973.66 809.53 L975.14 808.65 L976.62 807.78 L978.1 806.91 L979.58 806.03 L981.06 805.16 L982.54 804.28 L984.01 803.4 L985.49 802.51 L986.97 801.63 L988.45 800.74 L989.93 799.86 L991.41 798.97 L992.89 798.08 L994.37 797.18 L995.85 796.29 L997.33 795.39 L998.81 794.5 L1000.29 793.6 L1001.76 792.7 L1003.24 791.79 L1004.72 790.89 L1006.2 789.98 L1007.68 789.08 L1009.16 788.17 L1010.64 787.26 L1012.12 786.34 L1013.6 785.43 L1015.08 784.51 L1016.56 783.6 L1018.04 782.68 L1019.52 781.75 L1020.99 780.83 L1022.47 779.91 L1023.95 778.98 L1025.43 778.05 L1026.91 777.12 L1028.39 776.19 L1029.87 775.26 L1031.35 774.32 L1032.83 773.39 L1034.31 772.45 L1035.79 771.51 L1037.27 770.57 L1038.75 769.63 L1040.22 768.68 L1041.7 767.73 L1043.18 766.79 L1044.66 765.84 L1046.14 764.88 L1047.62 763.93 L1049.1 762.98 L1050.58 762.02 L1052.06 761.06 L1053.54 760.1 L1055.02 759.14 L1056.5 758.18 L1057.97 757.21 L1059.45 756.24 L1060.93 755.28 L1062.41 754.31 L1063.89 753.33 L1065.37 752.36 L1066.85 751.38 L1068.33 750.41 L1069.81 749.43 L1071.29 748.45 L1072.77 747.47 L1074.25 746.48 L1075.73 745.5 L1077.2 744.51 L1078.68 743.52 L1080.16 742.53 L1081.64 741.54 L1083.12 740.55 L1084.6 739.55 L1086.08 738.55 L1087.56 737.55 L1089.04 736.55 L1090.52 735.55 L1092 734.55 L1093.48 733.54 L1094.95 732.53 L1096.43 731.52 L1097.91 730.51 L1099.39 729.5 L1100.87 728.49 L1102.35 727.47 L1103.83 726.45 L1105.31 725.43 L1106.79 724.41 L1108.27 723.39 L1109.75 722.37 L1111.23 721.34 L1112.71 720.31 L1114.18 719.28 L1115.66 718.25 L1117.14 717.22 L1118.62 716.19 L1120.1 715.15 L1121.58 714.11 L1123.06 713.07 L1124.54 712.03 L1126.02 710.99 L1127.5 709.94 L1128.98 708.9 L1130.46 707.85 L1131.94 706.8 L1133.41 705.75 L1134.89 704.69 L1136.37 703.64 L1137.85 702.58 L1139.33 701.53 L1140.81 700.47 L1142.29 699.4 L1143.77 698.34 L1145.25 697.28 L1146.73 696.21 L1148.21 695.14 L1149.69 694.07 L1151.16 693 L1152.64 691.93 L1154.12 690.85 L1155.6 689.77 L1157.08 688.7 L1158.56 687.62 L1160.04 686.53 L1161.52 685.45 L1163 684.37 L1164.48 683.28 L1165.96 682.19 L1167.44 681.1 L1168.92 680.01 L1170.39 678.91 L1171.87 677.82 L1173.35 676.72 L1174.83 675.62 L1176.31 674.52 L1177.79 673.42 L1179.27 672.32 L1180.75 671.21 L1182.23 670.1 L1183.71 669 L1185.19 667.89 L1186.67 666.77 L1188.14 665.66 L1189.62 664.54 L1191.1 663.43 L1192.58 662.31 L1194.06 661.19 L1195.54 660.06 L1197.02 658.94 L1198.5 657.81 L1199.98 656.69 L1201.46 655.56 L1202.94 654.43 L1204.42 653.3 L1205.9 652.16 L1207.37 651.02 L1208.85 649.89 L1210.33 648.75 L1211.81 647.61 L1213.29 646.46 L1214.77 645.32 L1216.25 644.17 L1217.73 643.03 L1219.21 641.88 L1220.69 640.73 L1222.17 639.57 L1223.65 638.42 L1225.13 637.26 L1226.6 636.1 L1228.08 634.95 L1229.56 633.78 L1231.04 632.62 L1232.52 631.46 L1234 630.29 L1235.48 629.12 L1236.96 627.95 L1238.44 626.78 L1239.92 625.61 L1241.4 624.43 L1242.88 623.26 L1244.35 622.08 L1245.83 620.9 L1247.31 619.72 L1248.79 618.53 L1250.27 617.35 L1251.75 616.16 L1253.23 614.97 L1254.71 613.78 L1256.19 612.59 L1257.67 611.4 L1259.15 610.2 L1260.63 609.01 L1262.11 607.81 L1263.58 606.61 L1265.06 605.41 L1266.54 604.2 L1268.02 603 L1269.5 601.79 L1270.98 600.58 L1272.46 599.37 L1273.94 598.16 L1275.42 596.95 L1276.9 595.73 L1278.38 594.51 L1279.86 593.3 L1281.33 592.08 L1282.81 590.85 L1284.29 589.63 L1285.77 588.4 L1287.25 587.18 L1288.73 585.95 L1290.21 584.72 L1291.69 583.49 L1293.17 582.25 L1294.65 581.02 L1296.13 579.78 L1297.61 578.54 L1299.09 577.3 L1300.56 576.06 L1302.04 574.81 L1303.52 573.57 L1305 572.32 L1306.48 571.07 L1307.96 569.82 L1309.44 568.57 L1310.92 567.31 L1312.4 566.06 L1313.88 564.8 L1315.36 563.54 L1316.84 562.28 L1318.32 561.02 L1319.79 559.75 L1321.27 558.49 L1322.75 557.22 L1324.23 555.95 L1325.71 554.68 L1327.19 553.4 L1328.67 552.13 L1330.15 550.85 L1331.63 549.58 L1333.11 548.3 L1334.59 547.01 L1336.07 545.73 L1337.54 544.45 L1339.02 543.16 L1340.5 541.87 L1341.98 540.58 L1343.46 539.29 L1344.94 538 L1346.42 536.7 L1347.9 535.41 L1349.38 534.11 L1350.86 532.81 L1352.34 531.51 L1353.82 530.2 L1355.3 528.9 L1356.77 527.59 L1358.25 526.28 L1359.73 524.97 L1361.21 523.66 L1362.69 522.35 L1364.17 521.03 L1365.65 519.72 L1367.13 518.4 L1368.61 517.08 L1370.09 515.76 L1371.57 514.43 L1373.05 513.11 L1374.52 511.78 L1376 510.45 L1377.48 509.12 L1378.96 507.79 L1380.44 506.46 L1381.92 505.12 L1383.4 503.78 L1384.88 502.45 L1386.36 501.11 L1387.84 499.76 L1389.32 498.42 L1390.8 497.07 L1392.28 495.73 L1393.75 494.38 L1395.23 493.03 L1396.71 491.67 L1398.19 490.32 L1399.67 488.97 L1401.15 487.61 L1402.63 486.25 L1404.11 484.89 L1405.59 483.53 L1407.07 482.16 L1408.55 480.8 L1410.03 479.43 L1411.51 478.06 L1412.98 476.69 L1414.46 475.32 L1415.94 473.94 L1417.42 472.57 L1418.9 471.19 L1420.38 469.81 L1421.86 468.43 L1423.34 467.04 L1424.82 465.66 L1426.3 464.27 L1427.78 462.89 L1429.26 461.5 L1430.73 460.11 L1432.21 458.71 L1433.69 457.32 L1435.17 455.92 L1436.65 454.52 L1438.13 453.12 L1439.61 451.72 L1441.09 450.32 L1442.57 448.92 L1444.05 447.51 L1445.53 446.1 L1447.01 444.69 L1448.49 443.28 L1449.96 441.87 L1451.44 440.45 L1452.92 439.04 L1454.4 437.62 L1455.88 436.2 L1457.36 434.78 L1458.84 433.35 L1460.32 431.93 L1461.8 430.5 L1463.28 429.07 L1464.76 427.64 L1466.24 426.21 L1467.71 424.78 L1469.19 423.34 L1470.67 421.91 L1472.15 420.47 L1473.63 419.03 L1475.11 417.58 L1476.59 416.14 L1478.07 414.7 L1479.55 413.25 L1481.03 411.8 L1482.51 410.35 L1483.99 408.9 L1485.47 407.44 L1486.94 405.99 L1488.42 404.53 L1489.9 403.07 L1491.38 401.61 L1492.86 400.15 L1494.34 398.69 L1495.82 397.22 L1497.3 395.75 L1498.78 394.28 L1500.26 392.81 L1501.74 391.34 L1503.22 389.87 L1504.7 388.39 L1506.17 386.91 L1507.65 385.44 L1509.13 383.95 L1510.61 382.47 L1512.09 380.99 L1513.57 379.5 L1515.05 378.01 L1516.53 376.53 L1518.01 375.03 L1519.49 373.54 L1520.97 372.05 L1522.45 370.55 L1523.92 369.05 L1525.4 367.55 L1526.88 366.05 L1528.36 364.55 L1529.84 363.05 L1531.32 361.54 L1532.8 360.03 L1534.28 358.52 L1535.76 357.01 L1537.24 355.5 L1538.72 353.98 L1540.2 352.47 L1541.68 350.95 L1543.15 349.43 L1544.63 347.91 L1546.11 346.39 L1547.59 344.86 L1549.07 343.34 L1550.55 341.81 L1552.03 340.28 L1553.51 338.75 L1554.99 337.21 L1556.47 335.68 L1557.95 334.14 L1559.43 332.6 L1560.9 331.06 L1562.38 329.52 L1563.86 327.98 L1565.34 326.43 L1566.82 324.89 L1568.3 323.34 L1569.78 321.79 L1571.26 320.24 L1572.74 318.68 L1574.22 317.13 L1575.7 315.57 L1577.18 314.01 L1578.66 312.45 L1580.13 310.89 L1581.61 309.33 L1583.09 307.76 L1584.57 306.19 L1586.05 304.63 L1587.53 303.06 L1589.01 301.48 L1590.49 299.91 L1591.97 298.33 L1593.45 296.76 L1594.93 295.18 L1596.41 293.6 L1597.89 292.02 L1599.36 290.43 L1600.84 288.85 L1602.32 287.26 L1603.8 285.67 L1605.28 284.08 L1606.76 282.49 L1608.24 280.89 L1609.72 279.3 L1611.2 277.7 L1612.68 276.1 L1614.16 274.5 L1615.64 272.9 L1617.11 271.29 L1618.59 269.69 L1620.07 268.08 L1621.55 266.47 L1623.03 264.86 L1624.51 263.25 L1625.99 261.63 L1627.47 260.02 L1628.95 258.4 L1630.43 256.78 L1631.91 255.16 L1633.39 253.54 L1634.87 251.91 L1636.34 250.28 L1637.82 248.66 L1639.3 247.03 L1640.78 245.4 L1642.26 243.76 L1643.74 242.13 L1645.22 240.49 L1646.7 238.85 L1648.18 237.21 L1649.66 235.57 L1651.14 233.93 L1652.62 232.29 L1654.09 230.64 L1655.57 228.99 L1657.05 227.34 L1658.53 225.69 L1660.01 224.04 L1661.49 222.38 L1662.97 220.72 L1664.45 219.07 L1665.93 217.41 L1667.41 215.74 L1668.89 214.08 L1670.37 212.42 L1671.85 210.75 L1673.32 209.08 L1674.8 207.41 L1676.28 205.74 L1677.76 204.07 L1679.24 202.39 L1680.72 200.71 L1682.2 199.04 L1683.68 197.35 L1685.16 195.67 L1686.64 193.99 L1688.12 192.3 L1689.6 190.62 L1691.08 188.93 L1692.55 187.24 L1694.03 185.55 L1695.51 183.85 L1696.99 182.16 L1698.47 180.46 L1699.95 178.76 L1701.43 177.06 L1702.91 175.36 L1704.39 173.65 L1705.87 171.95 L1707.35 170.24 L1708.83 168.53 L1710.3 166.82 L1711.78 165.11 L1713.26 163.39 L1714.74 161.68 L1716.22 159.96 L1717.7 158.24 L1719.18 156.52 L1720.66 154.8 L1722.14 153.07 L1723.62 151.35 L1725.1 149.62 L1726.58 147.89 L1728.06 146.16 L1729.53 144.43 L1731.01 142.69" fill="none" stroke="#0000ff" stroke-width="8.3333" stroke-linecap="square" stroke-linejoin="round"/>
</g>
<path d="M253.5 1078.5V1093.5M438.5 1078.5V1093.5M623.5 1078.5V1093.5M807.5 1078.5V1093.5M992.5 1078.5V1093.5M1177.5 1078.5V1093.5M1362.5 1078.5V1093.5M1546.5 1078.5V1093.5M1731.5 1078.5V1093.5M179.5 1033.5H164.5M179.5 822.5H164.5M179.5 611.5H164.5M179.5 400.5H164.5M179.5 190.5H164.5" fill="none" stroke="#000" stroke-width="3.3333"/>
<path d="M179.5 98.5V1078.5H1805.5" fill="none" stroke="#000" stroke-width="3.3333" stroke-linecap="square" stroke-linejoin="miter"/>
<g font-family="Liberation Sans, sans-serif" fill="#000" style="filter:grayscale(1);will-change:transform">
<text fill-opacity="0.911" transform="translate(738.25 66.54) scale(0.9883 1)" x="-2.01 27.37 41.92 70.55 98.49 122.19 149.79 157.00 189.11 215.27 244.27 273.32 288.34 305.31 332.91 340.67 376.97 395.93 426.05 466.01 481.97" font-size="49.32" font-weight="bold">Z-Loss Penalty Growth</text>
<text fill-opacity="0.924" transform="translate(784.01 1196.62) scale(0.9765 1)" font-size="44.68" font-weight="normal">Maximum Logit Value</text>
<text fill-opacity="0.919" transform="translate(64.56 653.97) rotate(-90) scale(0.9214 1)" font-size="44.29" font-weight="normal">Z-Loss</text>
<text stroke="#000" stroke-width="0.223" stroke-linejoin="round" transform="translate(228.81 1137.61) scale(0.8962 1)" font-size="40.03" font-weight="normal">0.0</text>
<text stroke="#000" stroke-width="0.071" stroke-linejoin="round" transform="translate(412.94 1137.61) scale(0.8895 1)" font-size="40.03" font-weight="normal">2.5</text>
<text stroke="#000" stroke-width="0.072" stroke-linejoin="round" transform="translate(598.03 1137.61) scale(0.9291 1)" font-size="39.44" font-weight="normal">5.0</text>
<text transform="translate(782.69 1137.60) scale(0.8975 1)" font-size="40.00" font-weight="normal">7.5</text>
<text stroke="#000" stroke-width="0.160" stroke-linejoin="round" transform="translate(956.32 1137.61) scale(0.9284 1)" font-size="39.44" font-weight="normal">10.0</text>
<text stroke="#000" stroke-width="0.039" stroke-linejoin="round" transform="translate(1141.05 1137.61) scale(0.9335 1)" font-size="39.72" font-weight="normal">12.5</text>
<text stroke="#000" stroke-width="0.081" stroke-linejoin="round" transform="translate(1325.32 1137.61) scale(0.9284 1)" font-size="39.44" font-weight="normal">15.0</text>
<text fill-opacity="0.982" transform="translate(1510.05 1137.60) scale(0.9203 1)" font-size="40.00" font-weight="normal">17.5</text>
<text stroke="#000" stroke-width="0.135" stroke-linejoin="round" transform="translate(1695.17 1137.61) scale(0.9270 1)" font-size="39.44" font-weight="normal">20.0</text>
<text stroke="#000" stroke-width="0.189" stroke-linejoin="round" transform="translate(87.52 205.61) scale(0.9357 1)" font-size="39.44" font-weight="normal">400</text>
<text transform="translate(87.02 415.61) scale(0.9409 1)" font-size="39.72" font-weight="normal">300</text>
<text stroke="#000" stroke-width="0.089" stroke-linejoin="round" transform="translate(87.91 626.61) scale(0.9308 1)" font-size="39.44" font-weight="normal">200</text>
<text stroke="#000" stroke-width="0.105" stroke-linejoin="round" transform="translate(88.06 837.61) scale(0.9260 1)" font-size="39.72" font-weight="normal">100</text>
<text stroke="#000" stroke-width="0.221" stroke-linejoin="round" transform="translate(130.58 1048.61) scale(0.9052 1)" font-size="39.44" font-weight="normal">0</text>
<text fill-opacity="0.946" transform="translate(404.12 726.62) scale(0.8501 1)" font-size="37.84" font-weight="normal">Safe</text>
<text fill-opacity="0.963" transform="translate(388.28 767.68) scale(0.9461 1)" font-size="37.23" font-weight="normal">region</text>
<text fill-opacity="0.950" transform="translate(1286.27 371.64) scale(0.9351 1)" font-size="36.49" font-weight="normal">Penalized</text>
<text fill-opacity="0.961" transform="translate(1312.28 411.68) scale(0.9461 1)" font-size="37.23" font-weight="normal">region</text>
</g>
</svg></body></html>
